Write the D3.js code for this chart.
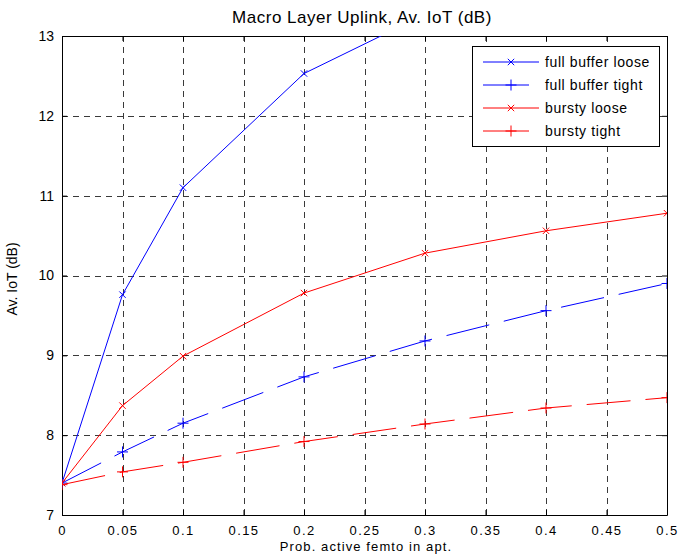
<!DOCTYPE html>
<html><head><meta charset="utf-8">
<script src="https://cdn.jsdelivr.net/npm/d3@7"></script>
<style>body{margin:0;background:#fff}svg{display:block}text{font-family:"Liberation Sans",Arial,sans-serif}</style>
</head><body>
<script>
const xValues = [0, 0.05, 0.1, 0.2, 0.3, 0.4, 0.5];
const fullBufferLoose = [7.40, 9.76, 11.10, 12.53, 13.27, 13.8, 14.2];
const fullBufferTight = [7.40, 7.79, 8.15, 8.73, 9.18, 9.56, 9.90];
const burstyLoose = [7.40, 8.37, 8.99, 9.78, 10.28, 10.56, 10.78];
const burstyTight = [7.38, 7.54, 7.66, 7.92, 8.14, 8.34, 8.47];
const seriesNames = ["full buffer loose", "full buffer tight", "bursty loose", "bursty tight"];
const xTicks = [0, 0.05, 0.1, 0.15, 0.2, 0.25, 0.3, 0.35, 0.4, 0.45, 0.5];
const yTicks = [7, 8, 9, 10, 11, 12, 13];

const W = 679, H = 558;
const m = {l: 62, r: 12, t: 36, b: 43};
const svg = d3.select("body").append("svg").attr("width", W).attr("height", H);
const x = d3.scaleLinear().domain([0, 0.5]).range([m.l, W - m.r]);
const y = d3.scaleLinear().domain([7, 13]).range([H - m.b, m.t]);

// grid
const grid = svg.append("g").attr("stroke", "#3a3a3a").attr("stroke-width", 1).attr("stroke-dasharray", "6,5");
grid.selectAll(".vx").data(xTicks.slice(1, -1)).join("line")
  .attr("x1", d => Math.round(x(d)) + 0.5).attr("x2", d => Math.round(x(d)) + 0.5)
  .attr("y1", m.t).attr("y2", H - m.b);
grid.selectAll(".hy").data(yTicks.slice(1, -1)).join("line")
  .attr("y1", d => Math.round(y(d)) + 0.5).attr("y2", d => Math.round(y(d)) + 0.5)
  .attr("x1", m.l).attr("x2", W - m.r);

// axes
const fmt = d => d === 0 ? "0" : String(d);
const xa = svg.append("g").attr("transform", `translate(0,${H - m.b})`)
  .call(d3.axisBottom(x).tickValues(xTicks).tickFormat(fmt).tickSizeInner(-5).tickSizeOuter(0).tickPadding(10.5));
const xt = svg.append("g").attr("transform", `translate(0,${m.t})`)
  .call(d3.axisTop(x).tickValues(xTicks).tickFormat("").tickSizeInner(-5).tickSizeOuter(0));
const ya = svg.append("g").attr("transform", `translate(${m.l},0)`)
  .call(d3.axisLeft(y).tickValues(yTicks).tickFormat(d3.format("d")).tickSizeInner(-5).tickSizeOuter(0).tickPadding(8));
const yr = svg.append("g").attr("transform", `translate(${W - m.r},0)`)
  .call(d3.axisRight(y).tickValues(yTicks).tickFormat("").tickSizeInner(-5).tickSizeOuter(0));
[xa, xt, ya, yr].forEach(g => {
  g.select(".domain").attr("stroke", "#000");
  g.selectAll(".tick line").attr("stroke", "#000");
  g.selectAll("text").attr("font-size", 14).attr("fill", "#000");
});
xa.selectAll("text").attr("font-size", 13).attr("letter-spacing", 1.4);

// clip
svg.append("clipPath").attr("id", "clip").append("rect")
  .attr("x", m.l).attr("y", m.t).attr("width", W - m.l - m.r).attr("height", H - m.t - m.b);

const series = [
  {name: seriesNames[0], vals: fullBufferLoose, color: "#0000ff", dash: null, marker: "x"},
  {name: seriesNames[1], vals: fullBufferTight, color: "#0000ff", dash: "44,15", marker: "+"},
  {name: seriesNames[2], vals: burstyLoose, color: "#ff0000", dash: null, marker: "x"},
  {name: seriesNames[3], vals: burstyTight, color: "#ff0000", dash: "44,15", marker: "+"}
];
const line = d3.line().x((d, i) => x(xValues[i])).y(d => y(d));
const plot = svg.append("g").attr("clip-path", "url(#clip)");
function markerPath(type, cx, cy) {
  if (type === "x") { const s = 3.2; return `M${cx-s},${cy-s}L${cx+s},${cy+s}M${cx-s},${cy+s}L${cx+s},${cy-s}`; }
  const s = 5.5; return `M${cx-s},${cy}L${cx+s},${cy}M${cx},${cy-s}L${cx},${cy+s}`;
}
series.forEach(s => {
  plot.append("path").datum(s.vals).attr("d", line).attr("fill", "none")
    .attr("stroke", s.color).attr("stroke-width", 1).attr("stroke-dasharray", s.dash);
  plot.selectAll(null).data(s.vals).join("path")
    .attr("d", (d, i) => markerPath(s.marker, x(xValues[i]), y(d)))
    .attr("stroke", s.color).attr("stroke-width", 1).attr("fill", "none");
});

// legend
const lg = svg.append("g");
lg.append("rect").attr("x", 472.5).attr("y", 46.5).attr("width", 187).attr("height", 100)
  .attr("fill", "#fff").attr("stroke", "#000").attr("stroke-width", 1);
series.forEach((s, i) => {
  const cy = 62 + i * 23;
  lg.append("line").attr("x1", 483).attr("x2", s.dash ? 529 : 539).attr("y1", cy).attr("y2", cy)
    .attr("stroke", s.color).attr("stroke-width", 1);
  lg.append("path").attr("d", markerPath(s.marker, 511, cy)).attr("stroke", s.color).attr("fill", "none");
  lg.append("text").attr("x", 545).attr("y", cy + 5.3).attr("font-size", 14).attr("letter-spacing", 0.6).text(s.name);
});

// titles
svg.append("text").attr("x", 362).attr("y", 23).attr("text-anchor", "middle")
  .attr("font-size", 17).attr("letter-spacing", 0.5).text("Macro Layer Uplink, Av. IoT (dB)");
svg.append("text").attr("x", 366).attr("y", 551).attr("text-anchor", "middle")
  .attr("font-size", 13).attr("letter-spacing", 1.1).text("Prob. active femto in apt.");
svg.append("text").attr("transform", `translate(17,279) rotate(-90)`)
  .attr("text-anchor", "middle").attr("font-size", 14).text("Av. IoT (dB)");
</script>
</body></html>
